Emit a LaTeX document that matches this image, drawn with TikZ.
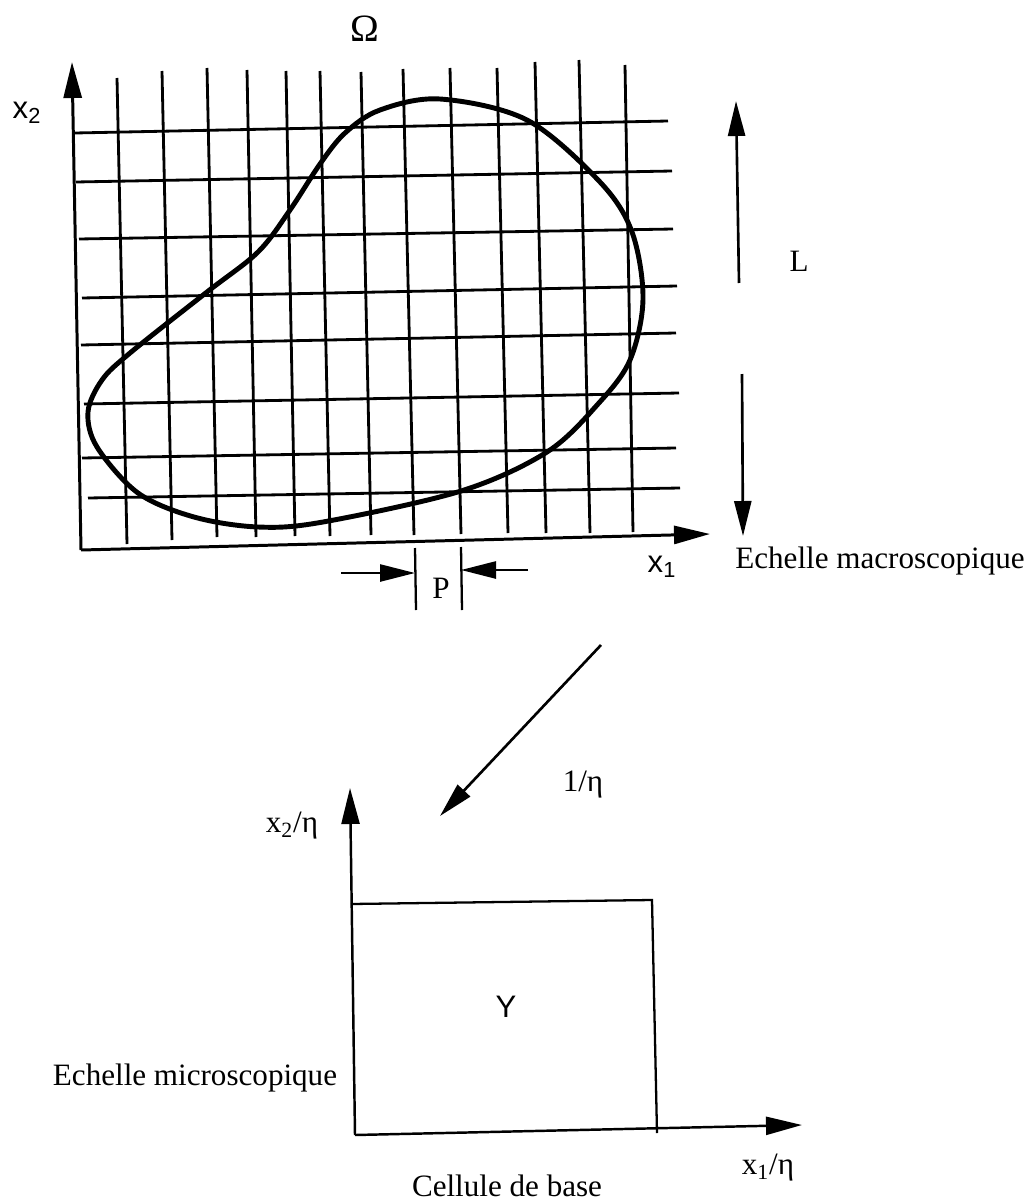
\documentclass[tikz,border=0pt]{standalone}
\usepackage{fontspec}
\setmainfont{Liberation Serif}
\setsansfont{Liberation Sans}
\usetikzlibrary{arrows.meta}

\begin{document}
\begin{tikzpicture}[x=0.02cm, y=-0.02cm,
  every node/.style={font=\fontsize{17.7}{21}\selectfont, inner sep=0pt},
  gridline/.style={line width=1.6pt},
  axis/.style={line width=1.7pt, -{Triangle[length=7.2mm, width=3.6mm]}},
  scalearrow/.style={line width=1.5pt, -{Triangle[length=7mm, width=3.4mm]}},
  blob/.style={line width=2.8pt, line join=round},
  cell/.style={line width=1.3pt}]
  \useasboundingbox (0,0) rectangle (1030,1203);
  % Periodic grid
  \foreach \xt/\yt/\xb/\yb in {117/78/127/544, 162/71/172/540, 207/68/217/537,
      247/70/256/537, 286/71/295/536, 320/71/330/536, 361/72/371/535,
      403/69/414/535, 450/68/461/534, 497/68/508/533, 535/62/546/533,
      579/60/590/533, 625/65/633/532}
    \draw[gridline] (\xt,\yt) -- (\xb,\yb);
  \foreach \xl/\yl/\xr/\yr in {75/133/668/121, 76/182/672/171, 79/239/673/229,
      82/298/677/286, 81/345/676/333, 84/404/679/393, 82/458/676/448,
      88/498/680/488}
    \draw[gridline] (\xl,\yl) -- (\xr,\yr);
  % Domain boundary
  \draw[blob] plot[smooth cycle, tension=0.55] coordinates {
    (440,99) (527,120) (600,182) (632,232) (643,299) (630,360) (598,404)
    (547,452) (461,491) (323,522) (258,527) (194,517) (138,493)
    (97,447) (88,412) (102,380) (130,353) (207,292) (258,252)
    (290,210) (320,164) (345,133) (380,110)};
  \node (omega) at (365,29) {\fontsize{22}{24}\selectfont Ω};
  % Macroscopic axes
  \coordinate (O) at (81,550);
  \coordinate (X1) at (710,534);
  \coordinate (X2) at (72,62);
  \draw[axis] (O) -- (X2);
  \draw[axis] (O) -- (X1);
  \node (x2) at (27,113) {\sffamily x\textsubscript{2}};
  \node (x1) at (662,567) {\sffamily x\textsubscript{1}};
  \node (macro) at (880,561) {Echelle macroscopique};
  % Length L
  \node (L) at (799,261) {L};
  \coordinate (Lup) at (739,283);
  \coordinate (Ltop) at (736,101);
  \coordinate (Ldown) at (742,374);
  \coordinate (Lbot) at (743,536);
  \draw[scalearrow] (Lup) -- (Ltop);
  \draw[scalearrow] (Ldown) -- (Lbot);
  % Period P
  \draw[cell] (415,548) -- (416,610);
  \draw[cell] (461,547) -- (462,610);
  \coordinate (Pa) at (341,573);
  \coordinate (Pb) at (415,573);
  \coordinate (Pc) at (528,570);
  \coordinate (Pd) at (461,570);
  \draw[scalearrow] (Pa) -- (Pb);
  \draw[scalearrow] (Pc) -- (Pd);
  \node (P) at (441,588) {P};
  % Change of scale
  \coordinate (zs) at (601,645);
  \coordinate (ze) at (440,816);
  \draw[scalearrow] (zs) -- (ze);
  \node (eta) at (583,785) {1/η};
  % Microscopic axes and cell
  \coordinate (o) at (355,1135);
  \coordinate (y1) at (802,1125);
  \coordinate (y2) at (350,788);
  \draw[axis, line width=1.4pt] (o) -- (y2);
  \draw[axis, line width=1.4pt] (o) -- (y1);
  \draw[cell] (351,904) -- (652,900) -- (657,1133);
  \node (cellY) at (506,1007) {\sffamily Y};
  \node (y2lab) at (292,826) {x\textsubscript{2}/η};
  \node (y1lab) at (768,1168) {x\textsubscript{1}/η};
  \node (micro) at (195,1078) {Echelle microscopique};
  \node (base) at (507,1186) {Cellule de base};
\end{tikzpicture}
\end{document}
